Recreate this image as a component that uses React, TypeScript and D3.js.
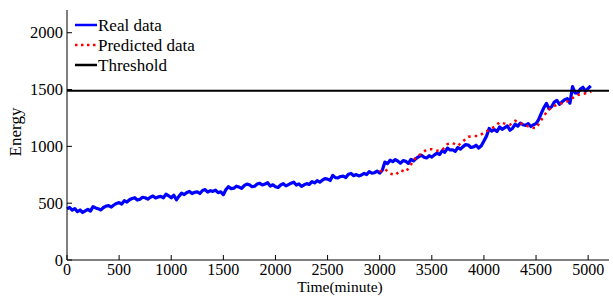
import React from 'react'
import * as d3 from 'd3'

// measured series, sampled every 25 minutes from 0 to 5025
const realStep = 25
const realValues = [
  450, 462, 438, 452, 425, 440, 418, 432, 445, 430, 470, 458, 450, 441, 462, 475, 478, 466, 484, 498,
  505, 492, 522, 510, 530, 541, 548, 527, 535, 552, 548, 536, 552, 563, 546, 555, 560, 548, 580, 565,
  548, 570, 530, 562, 588, 576, 594, 603, 585, 596, 600, 585, 612, 620, 598, 610, 604, 615, 592, 600,
  575, 620, 645, 628, 632, 650, 642, 630, 655, 668, 662, 645, 650, 668, 675, 660, 668, 680, 650, 662,
  645, 638, 660, 672, 652, 664, 676, 685, 660, 670, 648, 662, 672, 665, 690, 678, 698, 685, 702, 716,
  712, 700, 745, 725, 722, 735, 738, 726, 755, 762, 742, 752, 740, 748, 762, 752, 778, 765, 768, 782,
  765, 790, 862, 848, 878, 865, 884, 870, 852, 875, 868, 850, 886, 872, 895, 910, 922, 905, 898, 918,
  905, 925, 940, 928, 962, 948, 985, 968, 970, 955, 990, 975, 998, 1015, 1012, 990, 995, 1010, 985, 1005,
  1048, 1090, 1158, 1135, 1148, 1130, 1170, 1150, 1165, 1180, 1142, 1160, 1195, 1178, 1205, 1190, 1185,
  1200, 1175, 1190, 1200, 1235, 1290, 1340, 1378, 1330, 1350, 1390, 1405, 1370, 1392, 1410, 1420, 1380,
  1525, 1470, 1468, 1505, 1520, 1485, 1510, 1532,
]

const predTimes = [
  3000, 3050, 3100, 3150, 3200, 3250, 3300, 3350, 3400, 3450, 3500, 3550, 3600, 3650, 3700, 3750,
  3800, 3850, 3900, 3950, 4000, 4050, 4100, 4150, 4200, 4250, 4300, 4350, 4400, 4450, 4500, 4550,
  4600, 4650, 4700, 4750, 4800, 4850, 4900, 4950, 5000, 5030,
]
const predValues = [
  777, 800, 760, 748, 790, 775, 840, 905, 935, 972, 975, 962, 968, 1020, 1030, 1005, 1045, 1085,
  1090, 1092, 1120, 1145, 1172, 1212, 1200, 1190, 1225, 1205, 1185, 1165, 1160, 1232, 1300, 1345,
  1365, 1380, 1395, 1425, 1452, 1462, 1470, 1482,
]

const threshold = 1490
const xTicks = [0, 500, 1000, 1500, 2000, 2500, 3000, 3500, 4000, 4500, 5000]
const yTicks = [0, 500, 1000, 1500, 2000]
const legendItems = ['Real data', 'Predicted data', 'Threshold']

const W = 613
const H = 296
const left = 67
const right = 609
const top = 10
const bottom = 260
const font = '"Liberation Serif", "DejaVu Serif", serif'

export default function App() {
  const x = d3.scaleLinear().domain([0, 5200]).range([left, right])
  const y = d3.scaleLinear().domain([0, 2200]).range([bottom, top])

  const line = d3
    .line<[number, number]>()
    .x((d) => x(d[0]))
    .y((d) => y(d[1]))

  const realPath = line(realValues.map((v, i) => [i * realStep, v]))!
  const predPath = line(predTimes.map((t, i) => [t, predValues[i]]))!

  const txt = { fontFamily: font, fill: '#000' }

  return (
    <svg
      width={W}
      height={H}
      style={{ position: 'absolute', left: 0, top: 0, background: '#fff', fontFamily: font }}
    >
      <path d={realPath} fill="none" stroke="#0000ff" strokeWidth={3.2} strokeLinejoin="round" />
      <path d={predPath} fill="none" stroke="#ff0000" strokeWidth={2.5} strokeDasharray="2.5 4" />
      <line x1={left} x2={right} y1={y(threshold)} y2={y(threshold)} stroke="#000" strokeWidth={2} />

      {/* axes */}
      <line x1={left} x2={left} y1={top} y2={bottom} stroke="#000" strokeWidth={1} />
      <line x1={left} x2={right} y1={bottom} y2={bottom} stroke="#000" strokeWidth={1} />

      {xTicks.map((t) => (
        <g key={'x' + t}>
          <line x1={x(t)} x2={x(t)} y1={bottom} y2={bottom - 5} stroke="#000" />
          <text x={x(t)} y={274.5} fontSize={16} textAnchor="middle" style={txt}>
            {t}
          </text>
        </g>
      ))}
      {yTicks.map((t) => (
        <g key={'y' + t}>
          <line x1={left} x2={left + 5} y1={y(t)} y2={y(t)} stroke="#000" />
          <text x={63} y={y(t) + 5.5} fontSize={16.5} textAnchor="end" style={txt}>
            {t}
          </text>
        </g>
      ))}

      <text x={340} y={292} fontSize={15.5} textAnchor="middle" style={txt}>
        Time(minute)
      </text>
      <text transform="translate(21,132) rotate(-90)" fontSize={17} textAnchor="middle" style={txt}>
        Energy
      </text>

      {/* legend */}
      {legendItems.map((name, i) => {
        const ly = 25 + i * 20
        return (
          <g key={name}>
            {i === 0 && <line x1={75} x2={97} y1={ly} y2={ly} stroke="#0000ff" strokeWidth={2.5} />}
            {i === 1 && (
              <line x1={75} x2={97} y1={ly} y2={ly} stroke="#ff0000" strokeWidth={2.5} strokeDasharray="2.5 3.5" />
            )}
            {i === 2 && <line x1={75} x2={97} y1={ly} y2={ly} stroke="#000" strokeWidth={2.5} />}
            <text x={98} y={ly + 6} fontSize={17} style={txt}>
              {name}
            </text>
          </g>
        )
      })}
    </svg>
  )
}
